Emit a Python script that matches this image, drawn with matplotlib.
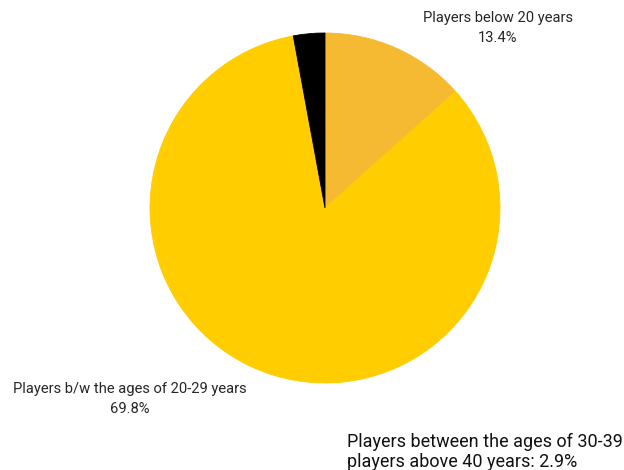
import matplotlib
matplotlib.use("Agg")
import matplotlib.pyplot as plt

# age groups of players
groups = ["Players below 20 years", "Players b/w the ages of 20-29 years",
          "Players between the ages of 30-39", "players above 40 years"]
shares = [13.4, 69.8, 13.9, 2.9]
colors = ["#F5BA32", "#FFCD00", "#FFCD00", "#000000"]

plt.rcParams['font.family'] = ['Roboto', 'DejaVu Sans']

W, H = 624, 470
fig = plt.figure(figsize=(W / 100, H / 100), dpi=100)
ax = fig.add_axes([0, 0, 1, 1])

# pie center and radius in pixels
cx, cy, r = 325, 208, 175
wedges, _ = ax.pie(shares, colors=colors, startangle=90, counterclock=False,
                   center=(0, 0), radius=1)
for w, c in zip(wedges, colors):
    w.set_edgecolor(c)
    w.set_linewidth(0.6)
ax.set_xlim(-cx / r, (W - cx) / r)
ax.set_ylim(-(H - cy) / r, cy / r)
ax.set_aspect('auto')
ax.axis('off')


def px(x, y):
    return x / W, 1 - y / H


small = dict(ha='center', va='center', fontsize=10.6, color='#262626')
fig.text(*px(498, 18), groups[0], **small)
fig.text(*px(498, 38), "%.1f%%" % shares[0], **small)
fig.text(*px(130, 389), groups[1], **small)
fig.text(*px(130, 409), "%.1f%%" % shares[1], **small)

big = dict(ha='left', va='center', fontsize=13, color='#111111')
fig.text(*px(347, 442), groups[2], **big)
fig.text(*px(347, 462), "%s: %.1f%%" % (groups[3], shares[3]), **big)

fig.savefig("out.png", dpi=100)
